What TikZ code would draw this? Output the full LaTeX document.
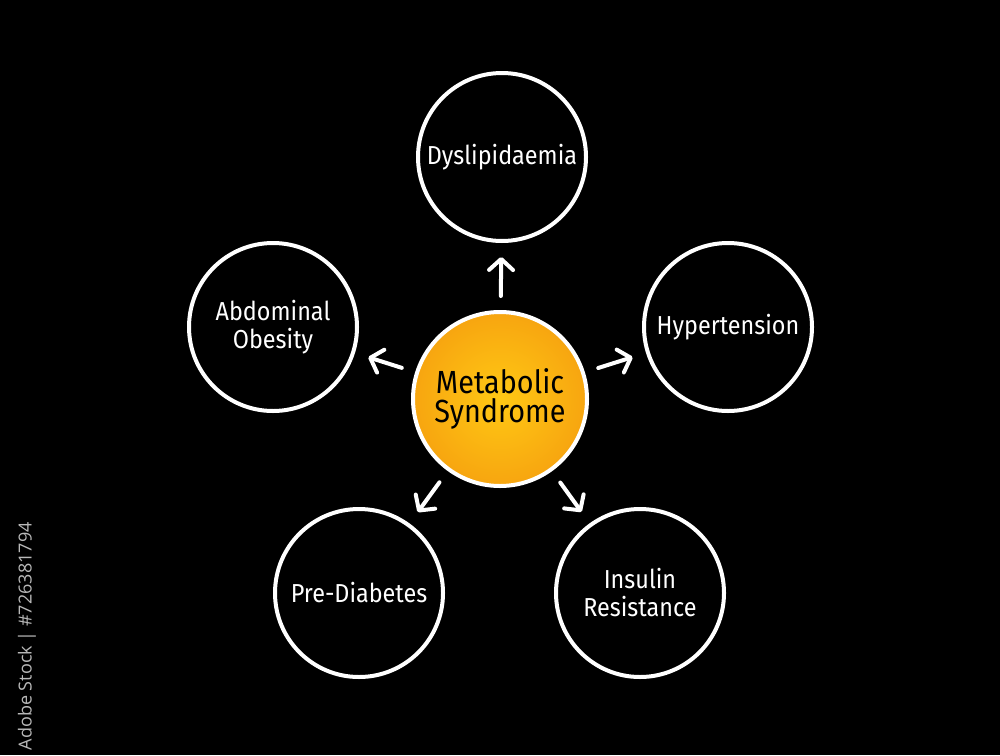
\documentclass[tikz,border=0pt]{standalone}
\usepackage{fontspec}
\setmainfont{Fira Sans}
\newfontfamily\handfont[FakeStretch=0.9]{Fira Sans}
\newfontfamily\wmfont{Open Sans}
\usetikzlibrary{arrows.meta}
\definecolor{msin}{RGB}{255,200,20}
\definecolor{msout}{RGB}{244,152,14}
\definecolor{wmgray}{RGB}{185,185,185}
\pgfdeclareradialshading{msshade}{\pgfpoint{0bp}{0bp}}{color(0bp)=(msin); color(14bp)=(msin!60!msout); color(34bp)=(msout); color(50bp)=(msout)}
\begin{document}
\begin{tikzpicture}[x=0.5pt,y=-0.5pt,
  outer/.style={circle, draw=white, line width=2pt, minimum size=84pt, inner sep=0pt,
    text=white, align=center, font=\handfont\fontsize{13}{14}\selectfont},
  center/.style={circle, draw=white, line width=2pt, minimum size=87pt, inner sep=0pt,
    shading=msshade, text=black, align=center, font=\handfont\fontsize{16}{13}\selectfont},
  arr/.style={draw=white, line width=2pt, line cap=round,
    -{Straight Barb[length=5.5pt,width=12pt,line cap=round,line join=round]},
    shorten <=7pt, shorten >=7pt}
]
\fill[black] (0,0) rectangle (1000,755);
\useasboundingbox (0,0) rectangle (1000,755);
\clip (0,0) rectangle (1000,755);

\node[center] (ms) at (500,399) {Metabolic\\[1.5pt]Syndrome};
\node[outer] (dys) at (502,157) {Dyslipidaemia};
\node[outer] (hyp) at (728,327) {Hypertension};
\node[outer] (abd) at (273,327) {Abdominal\\Obesity};
\node[outer] (pre) at (359,593) {Pre-Diabetes};
\node[outer] (ins) at (640,593) {Insulin\\Resistance};

\draw[arr] (ms) -- (dys);
\draw[arr] (ms) -- (hyp);
\draw[arr] (ms) -- (abd);
\draw[arr] (ms) -- (pre);
\draw[arr] (ms) -- (ins);

\node[rotate=90, anchor=east, text=wmgray, font=\wmfont\fontsize{9}{10}\selectfont, inner sep=0pt] (wm) at (27,522) {Adobe Stock | \#726381794};
\end{tikzpicture}
\end{document}
